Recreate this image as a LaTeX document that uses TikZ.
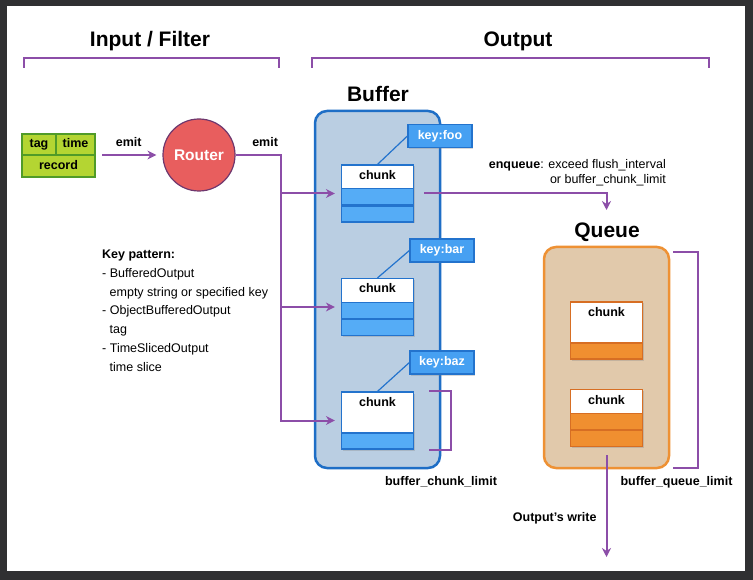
\documentclass[tikz,border=0pt]{standalone}
\usepackage{fontspec}
\setmainfont{Liberation Sans}
\usetikzlibrary{arrows.meta,positioning,shadows}

\definecolor{framec}{RGB}{48,48,50}
\definecolor{flowc}{RGB}{140,78,168}
\definecolor{routerc}{RGB}{232,94,94}
\definecolor{routerbd}{RGB}{110,55,110}
\definecolor{bufferfill}{RGB}{186,206,226}
\definecolor{bufferbd}{RGB}{30,110,198}
\definecolor{keyc}{RGB}{70,160,242}
\definecolor{bluebd}{RGB}{35,115,205}
\definecolor{blueri}{RGB}{85,172,246}
\definecolor{queuefill}{RGB}{225,201,171}
\definecolor{queuebd}{RGB}{238,145,52}
\definecolor{orangec}{RGB}{240,143,48}
\definecolor{orangebd}{RGB}{215,110,35}
\definecolor{greenc}{RGB}{180,213,50}
\definecolor{greenbd}{RGB}{80,155,40}

\begin{document}
\begin{tikzpicture}[x=1pt,y=-1pt,>={Stealth[length=9pt,width=9pt]},
    flow/.style={draw=flowc,line width=2pt},
    title/.style={font=\bfseries\fontsize{21}{25}\selectfont,anchor=base},
    lab/.style={font=\bfseries\fontsize{12.5}{15}\selectfont},
    txt/.style={font=\fontsize{12.5}{15}\selectfont},
    shade/.style={drop shadow={shadow xshift=1pt,shadow yshift=-1.5pt,opacity=0.3}},
    cell/.style={lab,draw=greenbd,fill=greenc,line width=1.2pt,inner sep=0,outer sep=0,
      text height=9pt,text depth=2.5pt,shade},
    router/.style={circle,draw=routerbd,fill=routerc,line width=1.2pt,minimum size=72pt,
      text=white,font=\bfseries\fontsize{15.5}{18}\selectfont},
    store/.style={rounded corners=12pt,line width=2.5pt,minimum width=125pt,inner sep=0},
    chunk/.style={lab,fill=white,line width=1.2pt,minimum width=72pt,inner sep=0,
      text height=14.5pt,text depth=42.5pt,shade},
    bchunk/.style={chunk,draw=bluebd},
    ochunk/.style={chunk,draw=orangebd},
    row/.style={line width=1.2pt,minimum width=72pt,minimum height=16pt,inner sep=0,anchor=south},
    brow/.style={row,draw=bluebd,fill=blueri},
    orow/.style={row,draw=orangebd,fill=orangec},
    keybox/.style={lab,draw=bluebd,fill=keyc,text=white,line width=1.2pt,inner sep=0,
      minimum width=64pt,minimum height=23pt,text height=9pt,text depth=2.5pt,shade},
    keyline/.style={draw=bluebd,line width=1.2pt}]

  \fill[framec] (0,0) rectangle (753,580);
  \fill[white] (7,6) rectangle (745,571);

  \node[title] (intitle) at (150,47) {Input / Filter};
  \node[title] (outtitle) at (518,47) {Output};
  \draw[flow] (24,68) |- (279,58) -- (279,68);
  \draw[flow] (312,68) |- (709,58) -- (709,68);

  % event
  \node[cell,minimum width=34pt,minimum height=21pt] (tag) at (39,144.5) {tag};
  \node[cell,minimum width=39pt,minimum height=21pt,anchor=west] (time) at (tag.east) {time};
  \node[cell,minimum width=73pt,minimum height=22pt,anchor=north west] (rec) at (tag.south west) {record};

  \node[router] (router) at (199,155) {Router};
  \draw[flow,->,shorten <=7pt,shorten >=6pt] (time.south east) -- node[lab,above=4pt] {emit} (router.west);

  % buffer
  \node[store,draw=bufferbd,fill=bufferfill,minimum height=357pt] (buffer) at (377.5,289.5) {};
  \node[title] (buftitle) at (378,101.5) {Buffer};

  \node[bchunk] (c1) at (377.5,193.5) {chunk};
  \node[brow] (c1b) at (c1.south) {};
  \node[brow] (c1a) at (c1b.north) {};
  \node[bchunk] (c2) at (377.5,307) {chunk};
  \node[brow] (c2b) at (c2.south) {};
  \node[brow] (c2a) at (c2b.north) {};
  \node[bchunk] (c3) at (377.5,420.5) {chunk};
  \node[brow] (c3a) at (c3.south) {};

  \node[keybox] (k1) at (440,136) {key:foo};
  \node[keybox] (k2) at (442,250.5) {key:bar};
  \node[keybox] (k3) at (442,362.5) {key:baz};
  \draw[keyline] (c1.north) -- (k1.west);
  \draw[keyline] (c2.north) -- (k2.west);
  \draw[keyline] (c3.north) -- (k3.west);

  \coordinate (bus) at (281,155);
  \draw[flow,->,shorten >=6pt] (router.east) -- node[lab,above=4pt,pos=0.65] {emit} (bus) |- (c1.west);
  \draw[flow,->,shorten >=6pt] (bus) |- (c2.west);
  \draw[flow,->,shorten >=6pt] (bus) |- (c3.west);

  \draw[flow] ([xshift=15pt]c3.north east) -- ++(22,0) |- ([xshift=15pt]c3.south east);
  \node[lab,anchor=base] (chunklimit) at (441,485) {buffer\_chunk\_limit};

  \node[txt,anchor=north west,align=left,inner sep=0,font=\fontsize{12.5}{18.7}\selectfont] (pattern) at (102,250) {%
    \textbf{Key pattern:}\\
    - BufferedOutput\\
    \hspace*{7.5pt}empty string or specified key\\
    - ObjectBufferedOutput\\
    \hspace*{7.5pt}tag\\
    - TimeSlicedOutput\\
    \hspace*{7.5pt}time slice};

  % queue
  \coordinate (enq) at (606.5,210);
  \draw[flow,->] ([xshift=10pt]c1.east) -| (enq);
  \node[txt,anchor=north east,align=right,inner sep=0] (enqlabel) at (666,159) {%
    \textbf{enqueue}: exceed flush\_interval\\
    or buffer\_chunk\_limit};

  \node[store,draw=queuebd,fill=queuefill,minimum height=221pt] (queue) at (606.5,357.5) {};
  \node[title] (qtitle) at (607,238) {Queue};

  \node[ochunk] (q1) at (606.5,330.5) {chunk};
  \node[orow] (q1a) at (q1.south) {};
  \node[ochunk] (q2) at (606.5,418) {chunk};
  \node[orow] (q2b) at (q2.south) {};
  \node[orow] (q2a) at (q2b.north) {};

  \draw[flow] ([shift={(3,6)}]queue.north east) -- ++(25,0) |- ([shift={(3,-1)}]queue.south east);
  \node[lab,anchor=base] (queuelimit) at (676.5,485) {buffer\_queue\_limit};

  \coordinate (write) at (606.5,557);
  \draw[flow,->] ([yshift=-8pt]q2.south) -- (write);
  \node[lab,anchor=base east] (writelabel) at (600,521.5) {Output’s write};
\end{tikzpicture}
\end{document}
